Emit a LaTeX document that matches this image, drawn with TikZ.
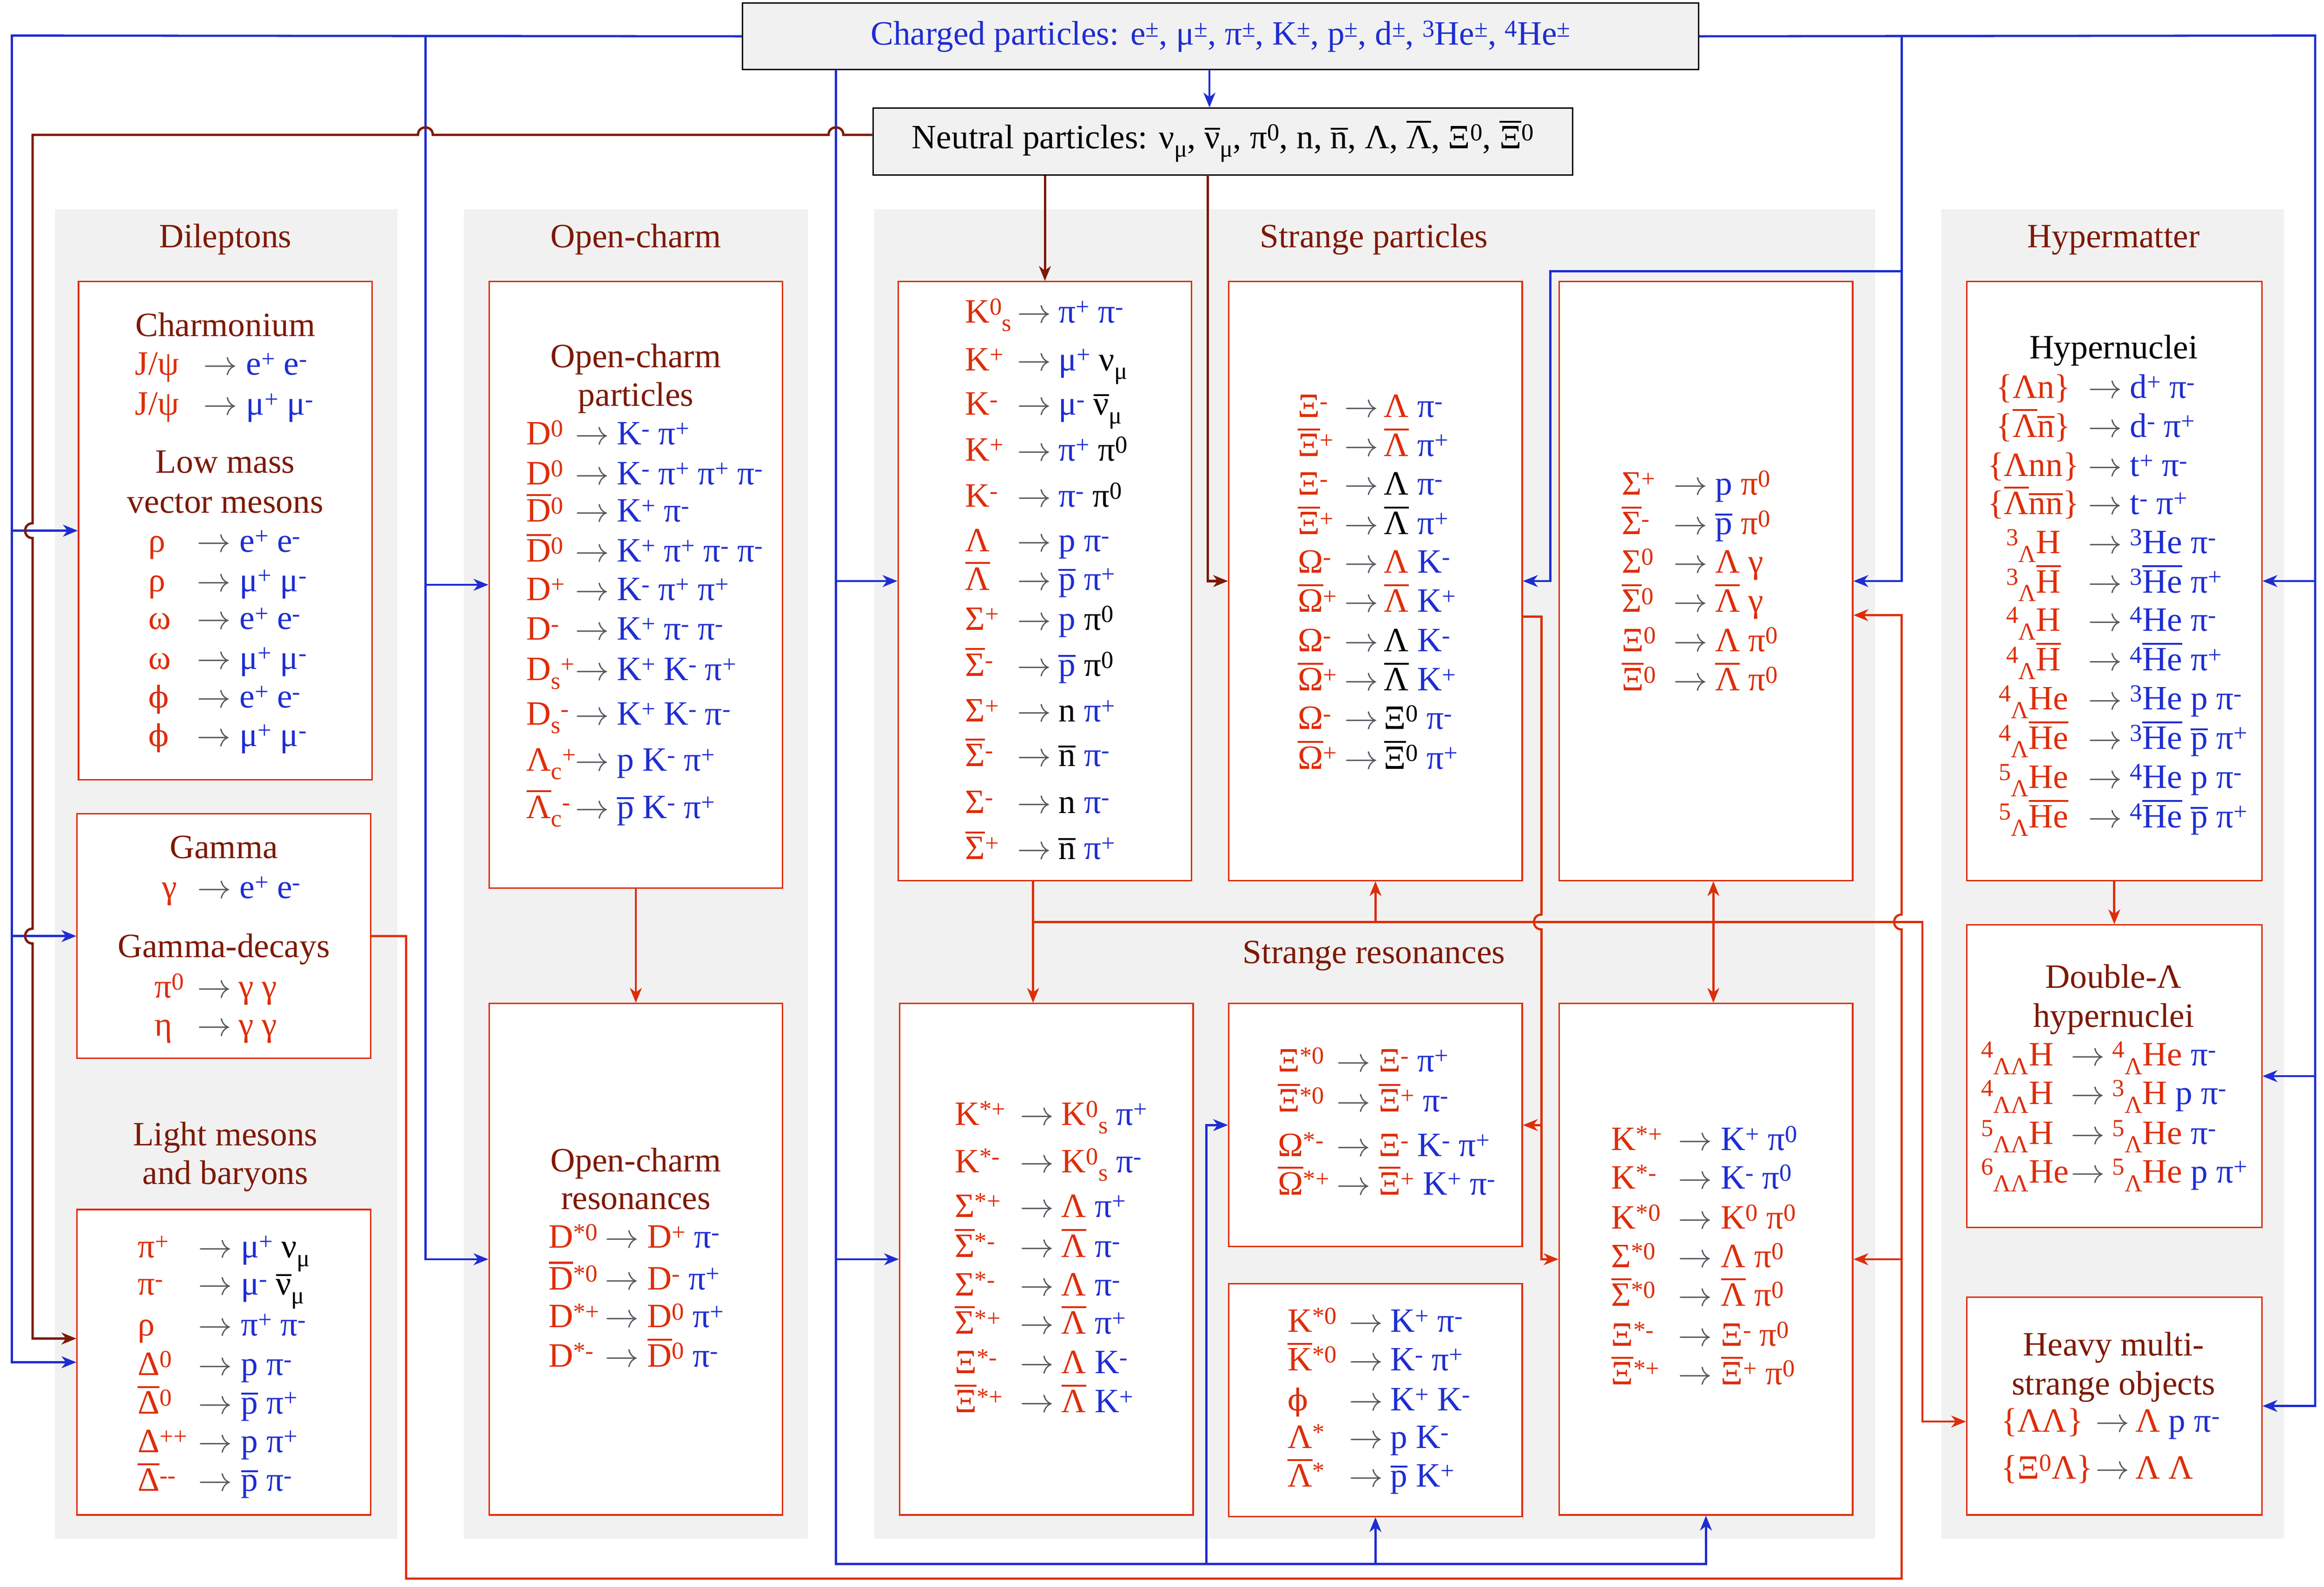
\RequirePackage{fix-cm}
\documentclass[tikz,border=0pt]{standalone}
\usepackage{fontspec}
\setmainfont{Liberation Serif}
\newfontfamily\dvs[Scale=0.88]{DejaVu Serif}
\usetikzlibrary{arrows.meta,calc}
\definecolor{pred}{RGB}{222,45,8}
\definecolor{pbrown}{RGB}{125,25,5}
\definecolor{pblue}{RGB}{30,45,210}
\definecolor{pgray}{RGB}{85,88,95}
\definecolor{pbg}{RGB}{241,241,241}
\newcommand\cR[1]{\textcolor{pred}{#1}}
\newcommand\cB[1]{\textcolor{pblue}{#1}}
\newcommand\cK[1]{\textcolor{black}{#1}}
\newcommand\Up[1]{\raisebox{0.23em}{\fontsize{16.5}{17}\selectfont #1}}
\newcommand\Dn[1]{\raisebox{-0.25em}{\fontsize{16.5}{17}\selectfont #1}}
\newcommand\phii{{\dvs ϕ}}
\newsavebox\obx
\newcommand\OC[1]{{\sbox\obx{#1}\rlap{\rule[0.76em]{\wd\obx}{0.055em}}\usebox\obx}}
\newcommand\OL[1]{{\sbox\obx{#1}\rlap{\rule[0.56em]{\wd\obx}{0.055em}}\usebox\obx}}
\newcounter{rwc}
\newcommand\cols[3]{\def\LX{#1}\def\AX{#2}\def\RX{#3}}
\newcommand\rw[3]{\stepcounter{rwc}%
 \node[tx,anchor=base west] (l\arabic{rwc}) at (\LX,#1+6) {#2};
 \node[ar,anchor=base west] (a\arabic{rwc}) at (\AX,#1+6) {$\rightarrow$};
 \node[tx,anchor=base west] (r\arabic{rwc}) at (\RX,#1+6) {#3};}
\newcommand\rwc[3]{\stepcounter{rwc}%
 \node[tx,anchor=base] (l\arabic{rwc}) at (\LX,#1+6) {#2};
 \node[ar,anchor=base west] (a\arabic{rwc}) at (\AX,#1+6) {$\rightarrow$};
 \node[tx,anchor=base west] (r\arabic{rwc}) at (\RX,#1+6) {#3};}
\newcommand\ttl[4][pbrown]{\stepcounter{rwc}%
 \node[tx,anchor=base,text=#1] (t\arabic{rwc}) at (#2,#3+7) {#4};}
\newcommand\mkbox[7]{%
 \pgfmathsetmacro\mbx{(#3+#5)/2}\pgfmathsetmacro\mby{(#4+#6)/2}%
 \pgfmathsetmacro\mbw{#5-#3}\pgfmathsetmacro\mbh{#6-#4}%
 \node[#1,minimum width=\mbw pt,minimum height=\mbh pt] (#2) at (\mbx,\mby) {#7};}
\begin{document}
\begin{tikzpicture}[x=1pt,y=-1pt,
  tx/.style={inner sep=0pt,font=\fontsize{23}{27}\selectfont},
  ar/.style={inner sep=0pt,font=\fontsize{23}{27}\selectfont,text=pgray},
  grp/.style={fill=pbg,draw=none,inner sep=0pt},
  pbox/.style={fill=white,draw=pred,line width=1pt,inner sep=0pt},
  topbox/.style={fill=pbg,draw=black,line width=1pt,inner sep=0pt,font=\fontsize{23}{27}\selectfont},
  bline/.style={draw=pblue,line width=1.5pt},
  brline/.style={draw=pbrown,line width=1.6pt},
  rline/.style={draw=pred,line width=1.5pt},
  >={Stealth[length=10pt,width=8pt,inset=3pt]}]
\useasboundingbox (0,0) rectangle (1568,1070.5);
\fill[white] (0,0) rectangle (1568,1070.5);

% group backgrounds
\mkbox{grp}{gD}{37}{141}{268}{1038}{}
\mkbox{grp}{gO}{313}{141}{545}{1038}{}
\mkbox{grp}{gS}{590}{141}{1265}{1038}{}
\mkbox{grp}{gH}{1310}{141}{1541}{1038}{}

% top boxes
\mkbox{topbox}{ch}{501}{2}{1146}{47}{\cB{Charged particles: e\Up{±}, μ\Up{±}, π\Up{±}, K\Up{±}, p\Up{±}, d\Up{±}, \Up{3}He\Up{±}, \Up{4}He\Up{±}}}
\mkbox{topbox}{nt}{589}{73}{1061}{118}{Neutral particles: ν\Dn{μ}, \OL{ν}\Dn{μ}, π\Up{0}, n, \OL{n}, Λ, \OC{Λ}, Ξ\Up{0}, \OC{Ξ}\Up{0}}

% boxes
\mkbox{pbox}{dil}{53}{190}{251}{526}{}
\mkbox{pbox}{gam}{52}{549}{250}{714}{}
\mkbox{pbox}{light}{52}{816}{250}{1022}{}
\mkbox{pbox}{ocp}{330}{190}{528}{599}{}
\mkbox{pbox}{ocr}{330}{677}{528}{1022}{}
\mkbox{pbox}{sp1}{606}{190}{804}{594}{}
\mkbox{pbox}{sp2}{829}{190}{1027}{594}{}
\mkbox{pbox}{sp3}{1052}{190}{1250}{594}{}
\mkbox{pbox}{res1}{607}{677}{805}{1022}{}
\mkbox{pbox}{res2}{829}{677}{1027}{841}{}
\mkbox{pbox}{res4}{829}{866}{1027}{1023}{}
\mkbox{pbox}{res5}{1052}{677}{1250}{1022}{}
\mkbox{pbox}{hyp}{1327}{190}{1526}{594}{}
\mkbox{pbox}{dbl}{1327}{624}{1526}{828}{}
\mkbox{pbox}{heavy}{1327}{875}{1526}{1022}{}

% group titles
\ttl{152}{160}{Dileptons}
\ttl{429}{160}{Open-charm}
\ttl{927}{160}{Strange particles}
\ttl{1426}{160}{Hypermatter}
\ttl{152}{766}{Light mesons}
\ttl{152}{792}{and baryons}
\ttl{927}{643}{Strange resonances}

% Dileptons
\ttl{152}{220}{Charmonium}
\cols{91}{137}{166}
\rw{247}{\cR{J/ψ}}{\cB{e\Up{+} e\Up{-}}}
\rw{274}{\cR{J/ψ}}{\cB{μ\Up{+} μ\Up{-}}}
\ttl{152}{312}{Low mass}
\ttl{152}{339}{vector mesons}
\cols{100}{132.5}{161.5}
\rw{366.4}{\cR{ρ}}{\cB{e\Up{+} e\Up{-}}}
\rw{393}{\cR{ρ}}{\cB{μ\Up{+} μ\Up{-}}}
\rw{418.6}{\cR{ω}}{\cB{e\Up{+} e\Up{-}}}
\rw{445.4}{\cR{ω}}{\cB{μ\Up{+} μ\Up{-}}}
\rw{471.5}{\cR{\phii}}{\cB{e\Up{+} e\Up{-}}}
\rw{497.5}{\cR{\phii}}{\cB{μ\Up{+} μ\Up{-}}}

% Gamma
\ttl{151}{572}{Gamma}
\cols{109}{133}{161.5}
\rw{600}{\cR{γ}}{\cB{e\Up{+} e\Up{-}}}
\ttl{151}{639}{Gamma-decays}
\cols{104}{133}{160.7}
\rw{667}{\cR{π\Up{0}}}{\cR{γ γ}}
\rw{693}{\cR{η}}{\cR{γ γ}}

% Light mesons
\cols{92.7}{133.7}{162.4}
\rw{842.5}{\cR{π\Up{+}}}{\cB{μ\Up{+}} \cK{ν\Dn{μ}}}
\rw{867.6}{\cR{π\Up{-}}}{\cB{μ\Up{-}} \cK{\OL{ν}\Dn{μ}}}
\rw{895}{\cR{ρ}}{\cB{π\Up{+} π\Up{-}}}
\rw{921.8}{\cR{Δ\Up{0}}}{\cB{p π\Up{-}}}
\rw{947.8}{\cR{\OC{Δ}\Up{0}}}{\cB{\OL{p} π\Up{+}}}
\rw{973.7}{\cR{Δ\Up{++}}}{\cB{p π\Up{+}}}
\rw{1000}{\cR{\OC{Δ}\Up{-{}-}}}{\cB{\OL{p} π\Up{-}}}

% Open-charm particles
\ttl{429}{241}{Open-charm}
\ttl{429}{267}{particles}
\cols{355}{388}{416}
\rw{294}{\cR{D\Up{0}}}{\cB{K\Up{-} π\Up{+}}}
\rw{321}{\cR{D\Up{0}}}{\cB{K\Up{-} π\Up{+} π\Up{+} π\Up{-}}}
\rw{346}{\cR{\OC{D}\Up{0}}}{\cB{K\Up{+} π\Up{-}}}
\rw{373}{\cR{\OC{D}\Up{0}}}{\cB{K\Up{+} π\Up{+} π\Up{-} π\Up{-}}}
\rw{399}{\cR{D\Up{+}}}{\cB{K\Up{-} π\Up{+} π\Up{+}}}
\rw{425.6}{\cR{D\Up{-}}}{\cB{K\Up{+} π\Up{-} π\Up{-}}}
\rw{453}{\cR{D\Dn{s}\Up{+}}}{\cB{K\Up{+} K\Up{-} π\Up{+}}}
\rw{483}{\cR{D\Dn{s}\Up{-}}}{\cB{K\Up{+} K\Up{-} π\Up{-}}}
\rw{514}{\cR{Λ\Dn{c}\Up{+}}}{\cB{p K\Up{-} π\Up{+}}}
\rw{546}{\cR{\OC{Λ}\Dn{c}\Up{-}}}{\cB{\OL{p} K\Up{-} π\Up{+}}}

% Open-charm resonances
\ttl{429}{783.4}{Open-charm}
\ttl{429}{808.7}{resonances}
\cols{370}{408}{436.6}
\rw{836}{\cR{D\Up{*0}}}{\cR{D\Up{+}} \cB{π\Up{-}}}
\rw{864}{\cR{\OC{D}\Up{*0}}}{\cR{D\Up{-}} \cB{π\Up{+}}}
\rw{889.6}{\cR{D\Up{*+}}}{\cR{D\Up{0}} \cB{π\Up{+}}}
\rw{916}{\cR{D\Up{*-}}}{\cR{\OC{D}\Up{0}} \cB{π\Up{-}}}

% Strange box 1
\cols{651}{686}{714}
\rw{211.7}{\cR{K\Up{0}\Dn{s}}}{\cB{π\Up{+} π\Up{-}}}
\rw{244}{\cR{K\Up{+}}}{\cB{μ\Up{+}} \cK{ν\Dn{μ}}}
\rw{274}{\cR{K\Up{-}}}{\cB{μ\Up{-}} \cK{\OL{ν}\Dn{μ}}}
\rw{305}{\cR{K\Up{+}}}{\cB{π\Up{+}} \cK{π\Up{0}}}
\rw{336}{\cR{K\Up{-}}}{\cB{π\Up{-}} \cK{π\Up{0}}}
\rw{366}{\cR{Λ}}{\cB{p π\Up{-}}}
\rw{392}{\cR{\OC{Λ}}}{\cB{\OL{p} π\Up{+}}}
\rw{419}{\cR{Σ\Up{+}}}{\cB{p} \cK{π\Up{0}}}
\rw{450}{\cR{\OC{Σ}\Up{-}}}{\cB{\OL{p}} \cK{π\Up{0}}}
\rw{481}{\cR{Σ\Up{+}}}{\cK{n} \cB{π\Up{+}}}
\rw{511}{\cR{\OC{Σ}\Up{-}}}{\cK{\OL{n}} \cB{π\Up{-}}}
\rw{542.5}{\cR{Σ\Up{-}}}{\cK{n} \cB{π\Up{-}}}
\rw{573.7}{\cR{\OC{Σ}\Up{+}}}{\cK{\OL{n}} \cB{π\Up{+}}}

% Strange box 2
\cols{875.5}{907}{933.6}
\rw{275.5}{\cR{Ξ\Up{-}}}{\cR{Λ} \cB{π\Up{-}}}
\rw{301.8}{\cR{\OC{Ξ}\Up{+}}}{\cR{\OC{Λ}} \cB{π\Up{+}}}
\rw{327.9}{\cR{Ξ\Up{-}}}{\cK{Λ} \cB{π\Up{-}}}
\rw{354.6}{\cR{\OC{Ξ}\Up{+}}}{\cK{\OC{Λ}} \cB{π\Up{+}}}
\rw{380.6}{\cR{Ω\Up{-}}}{\cR{Λ} \cB{K\Up{-}}}
\rw{407}{\cR{\OC{Ω}\Up{+}}}{\cR{\OC{Λ}} \cB{K\Up{+}}}
\rw{433.6}{\cR{Ω\Up{-}}}{\cK{Λ} \cB{K\Up{-}}}
\rw{460}{\cR{\OC{Ω}\Up{+}}}{\cK{\OC{Λ}} \cB{K\Up{+}}}
\rw{486}{\cR{Ω\Up{-}}}{\cK{Ξ\Up{0}} \cB{π\Up{-}}}
\rw{512.7}{\cR{\OC{Ω}\Up{+}}}{\cK{\OC{Ξ}\Up{0}} \cB{π\Up{+}}}

% Strange box 3
\cols{1094}{1129}{1157}
\rw{327.9}{\cR{Σ\Up{+}}}{\cB{p} \cR{π\Up{0}}}
\rw{354.6}{\cR{\OC{Σ}\Up{-}}}{\cB{\OL{p}} \cR{π\Up{0}}}
\rw{380.6}{\cR{Σ\Up{0}}}{\cR{Λ γ}}
\rw{407}{\cR{\OC{Σ}\Up{0}}}{\cR{\OC{Λ} γ}}
\rw{433.6}{\cR{Ξ\Up{0}}}{\cR{Λ π\Up{0}}}
\rw{460}{\cR{\OC{Ξ}\Up{0}}}{\cR{\OC{Λ} π\Up{0}}}

% Resonances 1
\cols{644}{688}{716}
\rw{753}{\cR{K\Up{*+}}}{\cR{K\Up{0}\Dn{s}} \cB{π\Up{+}}}
\rw{785}{\cR{K\Up{*-}}}{\cR{K\Up{0}\Dn{s}} \cB{π\Up{-}}}
\rw{815}{\cR{Σ\Up{*+}}}{\cR{Λ} \cB{π\Up{+}}}
\rw{842}{\cR{\OC{Σ}\Up{*-}}}{\cR{\OC{Λ}} \cB{π\Up{-}}}
\rw{868}{\cR{Σ\Up{*-}}}{\cR{Λ} \cB{π\Up{-}}}
\rw{894}{\cR{\OC{Σ}\Up{*+}}}{\cR{\OC{Λ}} \cB{π\Up{+}}}
\rw{920.6}{\cR{Ξ\Up{*-}}}{\cR{Λ} \cB{K\Up{-}}}
\rw{947}{\cR{\OC{Ξ}\Up{*+}}}{\cR{\OC{Λ}} \cB{K\Up{+}}}

% Resonances 2
\cols{862}{901.6}{930}
\rw{717}{\cR{Ξ\Up{*0}}}{\cR{Ξ\Up{-}} \cB{π\Up{+}}}
\rw{744}{\cR{\OC{Ξ}\Up{*0}}}{\cR{\OC{Ξ}\Up{+}} \cB{π\Up{-}}}
\rw{774}{\cR{Ω\Up{*-}}}{\cR{Ξ\Up{-}} \cB{K\Up{-} π\Up{+}}}
\rw{800}{\cR{\OC{Ω}\Up{*+}}}{\cR{\OC{Ξ}\Up{+}} \cB{K\Up{+} π\Up{-}}}

% Resonances 4
\cols{868.6}{910}{938}
\rw{892.5}{\cR{K\Up{*0}}}{\cB{K\Up{+} π\Up{-}}}
\rw{918.6}{\cR{\OC{K}\Up{*0}}}{\cB{K\Up{-} π\Up{+}}}
\rw{945.6}{\cR{\phii}}{\cB{K\Up{+} K\Up{-}}}
\rw{971}{\cR{Λ\Up{*}}}{\cB{p K\Up{-}}}
\rw{997}{\cR{\OC{Λ}\Up{*}}}{\cB{\OL{p} K\Up{+}}}

% Resonances 5
\cols{1087}{1132}{1161}
\rw{770}{\cR{K\Up{*+}}}{\cB{K\Up{+} π\Up{0}}}
\rw{796}{\cR{K\Up{*-}}}{\cB{K\Up{-} π\Up{0}}}
\rw{823}{\cR{K\Up{*0}}}{\cR{K\Up{0} π\Up{0}}}
\rw{849}{\cR{Σ\Up{*0}}}{\cR{Λ π\Up{0}}}
\rw{875}{\cR{\OC{Σ}\Up{*0}}}{\cR{\OC{Λ} π\Up{0}}}
\rw{902}{\cR{Ξ\Up{*-}}}{\cR{Ξ\Up{-} π\Up{0}}}
\rw{928}{\cR{\OC{Ξ}\Up{*+}}}{\cR{\OC{Ξ}\Up{+} π\Up{0}}}

% Hypernuclei
\ttl[black]{1426}{235}{Hypernuclei}
\cols{1372}{1408.6}{1437}
\rwc{262.5}{\cR{\{Λn\}}}{\cB{d\Up{+} π\Up{-}}}
\rwc{288.8}{\cR{\{\OC{Λ}\OL{n}\}}}{\cB{d\Up{-} π\Up{+}}}
\rwc{315.4}{\cR{\{Λnn\}}}{\cB{t\Up{+} π\Up{-}}}
\rwc{341}{\cR{\{\OC{Λ}\OL{nn}\}}}{\cB{t\Up{-} π\Up{+}}}
\rwc{367.4}{\cR{\Up{3}\Dn{Λ}H}}{\cB{\Up{3}He π\Up{-}}}
\rwc{394}{\cR{\Up{3}\Dn{Λ}\OC{H}}}{\cB{\Up{3}\OC{He} π\Up{+}}}
\rwc{419.8}{\cR{\Up{4}\Dn{Λ}H}}{\cB{\Up{4}He π\Up{-}}}
\rwc{446.5}{\cR{\Up{4}\Dn{Λ}\OC{H}}}{\cB{\Up{4}\OC{He} π\Up{+}}}
\rwc{472.8}{\cR{\Up{4}\Dn{Λ}He}}{\cB{\Up{3}He p π\Up{-}}}
\rwc{499.4}{\cR{\Up{4}\Dn{Λ}\OC{He}}}{\cB{\Up{3}\OC{He} \OL{p} π\Up{+}}}
\rwc{525.7}{\cR{\Up{5}\Dn{Λ}He}}{\cB{\Up{4}He p π\Up{-}}}
\rwc{552.4}{\cR{\Up{5}\Dn{Λ}\OC{He}}}{\cB{\Up{4}\OC{He} \OL{p} π\Up{+}}}

% Double Lambda
\ttl{1426}{659.5}{Double-Λ}
\ttl{1426}{686}{hypernuclei}
\cols{1336.5}{1397}{1425}
\rw{713}{\cR{\Up{4}\Dn{ΛΛ}H}}{\cR{\Up{4}\Dn{Λ}He} \cB{π\Up{-}}}
\rw{739}{\cR{\Up{4}\Dn{ΛΛ}H}}{\cR{\Up{3}\Dn{Λ}H} \cB{p π\Up{-}}}
\rw{765.8}{\cR{\Up{5}\Dn{ΛΛ}H}}{\cR{\Up{5}\Dn{Λ}He} \cB{π\Up{-}}}
\rw{792}{\cR{\Up{6}\Dn{ΛΛ}He}}{\cR{\Up{5}\Dn{Λ}He} \cB{p π\Up{+}}}

% Heavy multi-strange
\ttl{1426}{907.6}{Heavy multi-}
\ttl{1426}{934}{strange objects}
\cols{1350}{1413.7}{1440.6}
\rw{960}{\cR{\{ΛΛ\}}}{\cR{Λ} \cB{p π\Up{-}}}
\rw{991.7}{\cR{\{Ξ\Up{0}Λ\}}}{\cR{Λ Λ}}

% ---------- blue connectors ----------
\coordinate (bL) at (8,24);
\coordinate (bC) at (287,24);
\coordinate (bM) at (564,47);
\coordinate (bMb) at (564,1055);
\coordinate (bR) at (1562,24);
\coordinate (bS) at (1283,24);
\coordinate (bT) at (1283,183);
\coordinate (bU) at (1046,183);
\coordinate (bV) at (814,1055);
\coordinate (cn) at (816,47);
\draw[bline,->] (cn) -- (cn |- nt.north);
\draw[bline,->] (ch.west) -- (bL) -- (bL |- light.west) -- (light.west);
\draw[bline,->] (bL |- dil.west) -- (dil.west);
\draw[bline,->] (bL |- gam.west) -- (gam.west);
\draw[bline,->] (bC) -- (bC |- ocr.west) -- (ocr.west);
\draw[bline,->] (bC |- ocp.west) -- (ocp.west);
\draw[bline,->] (bM) -- (bMb) -- (bMb -| res5.south) -- (res5.south);
\draw[bline,->] (bM |- sp1.west) -- (sp1.west);
\draw[bline,->] (bM |- res1.west) -- (res1.west);
\draw[bline,->] (bV) -- (bV |- res2.west) -- (res2.west);
\draw[bline,->] (bMb -| res4.south) -- (res4.south);
\draw[bline,->] (ch.east) -- (bR) -- (bR |- heavy.east) -- (heavy.east);
\draw[bline,->] (bR |- hyp.east) -- (hyp.east);
\draw[bline,->] (bR |- dbl.east) -- (dbl.east);
\draw[bline,->] (bS) -- (bS |- sp3.east) -- (sp3.east);
\draw[bline,->] (bT) -- (bU) -- (bU |- sp2.east) -- (sp2.east);

% ---------- brown connectors ----------
\path (nt.west) ++(0,-4.5) coordinate (n1);
\path (light.west) ++(0,-16) coordinate (lin);
\coordinate (n3) at (815,118);
\coordinate (nx) at (22,91);
\draw[brline,->] (n1) -- (569,91) .. controls (569,84.3) and (559,84.3) .. (559,91)
  -- (292,91) .. controls (292,84.3) and (282,84.3) .. (282,91)
  -- (nx) -- (22,353) .. controls (15.3,353) and (15.3,363) .. (22,363)
  -- (22,626.5) .. controls (15.3,626.5) and (15.3,636.5) .. (22,636.5)
  -- (nx |- lin) -- (lin);
\draw[brline,->] (nt.south -| sp1.north) -- (sp1.north);
\draw[brline,->] (n3) -- (n3 |- sp2.west) -- (sp2.west);

% ---------- red connectors ----------
\draw[rline,->] (ocp.south) -- (ocr.north);
\draw[rline,->] (hyp.south) -- (dbl.north);
\coordinate (rj) at (697,622);
\coordinate (rk) at (1297,622);
\coordinate (rd1) at (1156,622);
\path (heavy.west) ++(0,10.5) coordinate (hin);
\draw[rline,->] (sp1.south -| rj) -- (rj) -- (rk) -- (rk |- hin) -- (hin);
\draw[rline,->] (rj) -- (rj |- res1.north);
\draw[rline,->] (sp2.south |- rj) -- (sp2.south);
\draw[rline,<->] (sp3.south -| rd1) -- (res5.north -| rd1);
% gamma feed
\coordinate (g1) at (274,1065);
\coordinate (g2) at (1283,1065);
\path (sp3.east) ++(0,23) coordinate (s3in);
\draw[rline,->] (gam.east) -- (gam.east -| g1) -- (g1) -- (g2) -- (1283,627)
  .. controls (1276.3,627) and (1276.3,617) .. (1283,617) -- (g2 |- s3in) -- (s3in);
\draw[rline,->] (g2 |- res5.east) -- (res5.east);
% box 2 feed
\path (sp2.east) ++(0,24) coordinate (s2out);
\coordinate (r4) at (1040,416);
\draw[rline,->] (s2out) -- (r4) -- (1040,617)
  .. controls (1033.3,617) and (1033.3,627) .. (1040,627) -- (r4 |- res5.west) -- (res5.west);
\draw[rline,->] (r4 |- res2.east) -- (res2.east);
\end{tikzpicture}
\end{document}
